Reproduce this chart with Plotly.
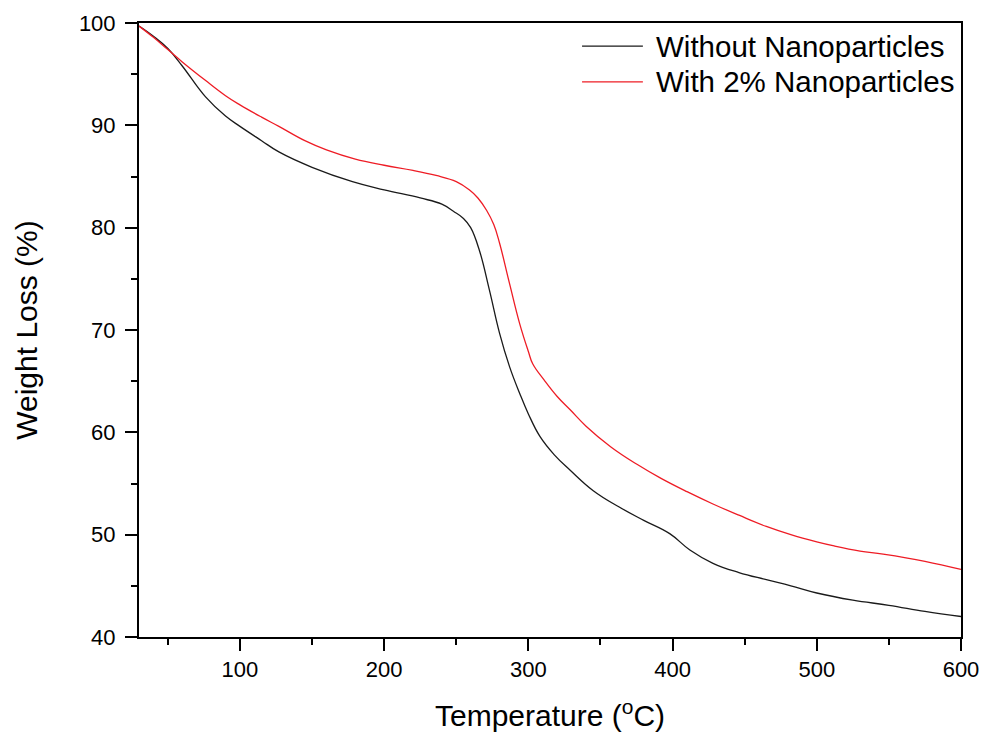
import plotly.graph_objects as go

# Temperature (°C) and weight (%)
temp_black = [30, 40, 50, 60, 76, 90, 100, 115, 127, 150, 178, 200, 225, 240, 248, 255,
              260, 266, 273, 280, 287, 294, 300, 308, 318, 329, 345, 363, 380, 398, 412,
              428, 446, 465, 482, 500, 525, 550, 575, 600]
weight_black = [99.7, 98.7, 97.5, 95.8, 92.8, 90.9, 89.9, 88.5, 87.4, 85.9, 84.5, 83.7,
                82.9, 82.3, 81.6, 80.9, 80.0, 77.8, 73.9, 69.7, 66.4, 63.8, 61.8, 59.6,
                57.8, 56.3, 54.3, 52.7, 51.4, 50.1, 48.5, 47.2, 46.3, 45.6, 45.0, 44.3,
                43.6, 43.1, 42.5, 42.0]

temp_red = [30, 40, 50, 60, 76, 90, 100, 115, 127, 145, 160, 180, 200, 220, 236, 250,
            259, 265, 271, 276, 280, 287, 294, 300, 303, 311, 320, 329, 340, 357, 375,
            392, 410, 428, 446, 465, 482, 500, 512, 530, 546, 575, 600]
weight_red = [99.7, 98.6, 97.4, 96.2, 94.4, 92.9, 92.0, 90.8, 89.9, 88.5, 87.6, 86.7,
              86.1, 85.6, 85.1, 84.5, 83.7, 82.9, 81.7, 80.3, 78.5, 74.5, 70.6, 67.9,
              66.7, 65.1, 63.5, 62.2, 60.6, 58.6, 56.9, 55.5, 54.2, 53.0, 51.9, 50.8,
              50.0, 49.3, 48.9, 48.4, 48.1, 47.4, 46.6]

series_names = ["Without Nanoparticles", "With 2% Nanoparticles"]
series_colors = ["#1a1a1a", "#ee1c25"]
x_ticks = [100, 200, 300, 400, 500, 600]
y_ticks = [40, 50, 60, 70, 80, 90, 100]

FONT = "Arial, Liberation Sans, sans-serif"

fig = go.Figure()
fig.add_trace(go.Scatter(x=temp_black, y=weight_black, mode="lines",
                         name=series_names[0], showlegend=False,
                         line=dict(color=series_colors[0], width=1.3, shape="spline", smoothing=1.2)))
fig.add_trace(go.Scatter(x=temp_red, y=weight_red, mode="lines",
                         name=series_names[1], showlegend=False,
                         line=dict(color=series_colors[1], width=1.3, shape="spline", smoothing=1.2)))

axis_common = dict(showline=True, linecolor="black", linewidth=2, mirror=True,
                   ticks="outside", ticklen=12, tickwidth=2, tickcolor="black",
                   showgrid=False, zeroline=False,
                   tickfont=dict(family=FONT, size=22, color="black"))

fig.update_xaxes(range=[30, 600], tickvals=x_ticks,
                 minor=dict(dtick=50, tick0=0, ticks="outside", ticklen=6, tickwidth=2,
                            tickcolor="black", showgrid=False),
                 title=dict(text="Temperature (<sup>o</sup>C)",
                            font=dict(family=FONT, size=30, color="black"), standoff=24),
                 **axis_common)
fig.update_yaxes(range=[40, 100], tickvals=y_ticks, ticklabelstandoff=5,
                 minor=dict(dtick=5, tick0=0, ticks="outside", ticklen=6, tickwidth=2,
                            tickcolor="black", showgrid=False),
                 title=dict(text="Weight Loss (%)",
                            font=dict(family=FONT, size=30, color="black"), standoff=32),
                 **axis_common)

# Hand-drawn legend (long line samples, as in the reference)
legend_y = [0.9625, 0.904]
for name, color, ly in zip(series_names, series_colors, legend_y):
    fig.add_shape(type="line", xref="paper", yref="paper",
                  x0=0.539, x1=0.613, y0=ly, y1=ly,
                  line=dict(color=color, width=1.3))
    fig.add_annotation(xref="paper", yref="paper", x=0.626, y=ly,
                       xanchor="left", yanchor="middle", showarrow=False,
                       text=name, font=dict(family=FONT, size=29.5, color="black"))

fig.update_layout(
    width=985, height=740,
    margin=dict(l=139, r=24, t=23, b=103, autoexpand=False),
    plot_bgcolor="white", paper_bgcolor="white",
    showlegend=False,
)

fig.write_html("out.html",
               config={"displayModeBar": False},
               post_script="document.body.style.margin='0px';document.body.style.overflow='hidden';")
